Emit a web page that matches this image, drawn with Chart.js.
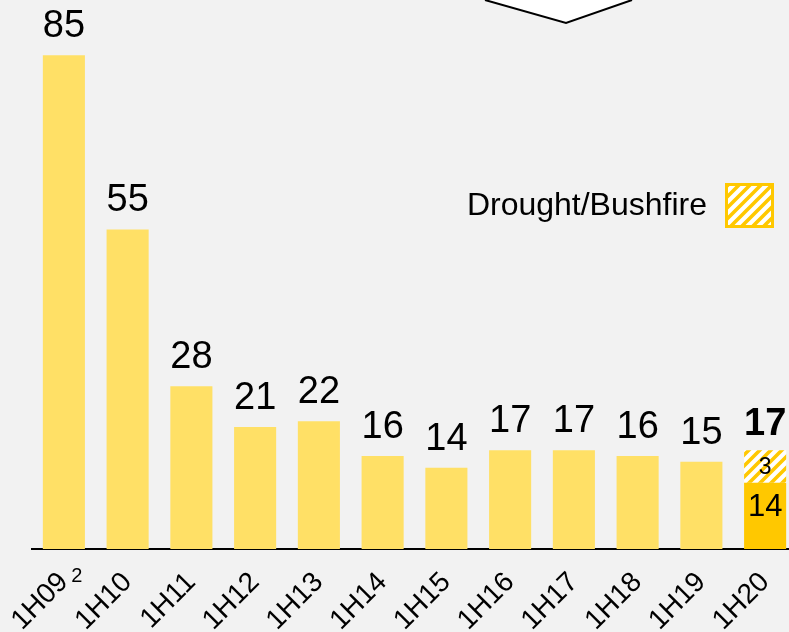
<!DOCTYPE html>
<html>
<head>
<meta charset="utf-8">
<script src="https://cdn.jsdelivr.net/npm/chart.js@4/dist/chart.umd.min.js"></script>
<style>
    html, body { margin: 0; padding: 0; background: #f2f2f2; overflow: hidden; }
    #wrap { width: 797px; height: 632px; }
</style>
</head>
<body>
<div id="wrap"><canvas id="chart" width="797" height="632"></canvas></div>
<script>
(function () {
    'use strict';

    // ── Data ──────────────────────────────────────────────────────────────────
    var periods = ['1H09', '1H10', '1H11', '1H12', '1H13', '1H14', '1H15', '1H16', '1H17', '1H18', '1H19', '1H20'];
    // bar heights as drawn; the 1H20 bar is split into core + drought part
    var coreValues = [85, 55, 28, 21, 22, 16, 14, 17, 17, 16, 15, 11.4];
    var droughtValues = [null, null, null, null, null, null, null, null, null, null, null, 5.6];
    var valueLabels = ['85', '55', '28', '21', '22', '16', '14', '17', '17', '16', '15', '17'];
    var coreLabel1H20 = '14';
    var droughtLabel1H20 = '3';
    var legendText = 'Drought/Bushfire';

    var FONT = "'Liberation Sans', Arial, sans-serif";
    var LIGHT = '#ffe066';
    var GOLD = '#ffc800';

    // ── Hatch pattern ─────────────────────────────────────────────────────────
    function hatch() {
        var n = 11;
        var c = document.createElement('canvas');
        c.width = n; c.height = n;
        var g = c.getContext('2d');
        g.fillStyle = '#ffffff';
        g.fillRect(0, 0, n, n);
        g.strokeStyle = GOLD;
        g.lineWidth = 3.6;
        g.beginPath();
        for (var k = -1; k <= 1; k++) {
            g.moveTo(k * n - 2, n + 2);
            g.lineTo(k * n + n + 2, -2);
        }
        g.stroke();
        return g.createPattern(c, 'repeat');
    }

    var ctx = document.getElementById('chart').getContext('2d');
    var pattern = hatch();

    // ── Overlay: labels, legend, callout ──────────────────────────────────────
    var overlay = {
        id: 'overlay',
        afterDraw: function (chart) {
            var g = chart.ctx;
            var core = chart.getDatasetMeta(0).data;
            var dr = chart.getDatasetMeta(1).data;
            var last = periods.length - 1;
            g.save();
            g.fillStyle = '#000';
            g.textAlign = 'center';
            g.textBaseline = 'alphabetic';

            for (var i = 0; i < last; i++) {
                g.font = '38px ' + FONT;
                g.fillText(valueLabels[i], core[i].x, core[i].y - 18);
            }
            var top = dr[last];
            g.font = 'bold 38px ' + FONT;
            g.fillText(valueLabels[last], top.x, top.y - 15);

            g.textBaseline = 'middle';
            g.font = '23px ' + FONT;
            g.fillText(droughtLabel1H20, top.x, (top.y + top.base) / 2 + 1);
            g.font = '31px ' + FONT;
            g.fillText(coreLabel1H20, core[last].x, core[last].y + 25);

            // superscript on first tick
            var xs = chart.scales.x;
            g.font = '20px ' + FONT;
            g.fillText('2', xs.getPixelForTick(0) + 13, chart.chartArea.bottom + 27);

            // legend
            g.textAlign = 'right';
            g.font = '32px ' + FONT;
            g.fillText(legendText, 707, 206);
            g.fillStyle = pattern;
            g.fillRect(726, 184, 47, 43);
            g.strokeStyle = GOLD;
            g.lineWidth = 3;
            g.strokeRect(726.5, 184.5, 46, 42);

            // callout arrow cut off at the top
            g.beginPath();
            g.moveTo(485, -5); g.lineTo(485, 0); g.lineTo(566, 23); g.lineTo(632, 0); g.lineTo(632, -5);
            g.closePath();
            g.fillStyle = '#fff';
            g.fill();
            g.beginPath();
            g.moveTo(485, 0); g.lineTo(566, 23); g.lineTo(632, 0);
            g.strokeStyle = '#000';
            g.lineWidth = 2;
            g.stroke();
            g.restore();
        }
    };

    new Chart(ctx, {
        type: 'bar',
        data: {
            labels: periods,
            datasets: [{
                data: coreValues,
                backgroundColor: periods.map(function (p, i) { return i === periods.length - 1 ? GOLD : LIGHT; }),
                borderWidth: 0,
                barPercentage: 0.66,
                categoryPercentage: 1
            }, {
                data: droughtValues,
                backgroundColor: pattern,
                borderWidth: 0,
                barPercentage: 0.66,
                categoryPercentage: 1
            }]
        },
        options: {
            responsive: false,
            animation: false,
            events: [],
            layout: { padding: { left: 32, right: 0, top: 0, bottom: 0 } },
            plugins: { legend: { display: false }, tooltip: { enabled: false } },
            scales: {
                x: {
                    stacked: true,
                    grid: { display: false, drawTicks: false },
                    border: { display: true, color: '#000', width: 2 },
                    ticks: {
                        color: '#000',
                        font: { family: FONT, size: 28 },
                        minRotation: 45,
                        maxRotation: 45,
                        autoSkip: false,
                        padding: 17
                    },
                    // fixed axis band; rotated labels may hang outside the plot
                    afterFit: function (s) {
                        s.height = 83;
                        s.paddingLeft = 0;
                        s.paddingRight = 0;
                    }
                },
                y: {
                    stacked: true,
                    display: false,
                    min: 0,
                    max: 94.5
                }
            }
        },
        plugins: [overlay]
    });
})();
</script>
</body>
</html>
